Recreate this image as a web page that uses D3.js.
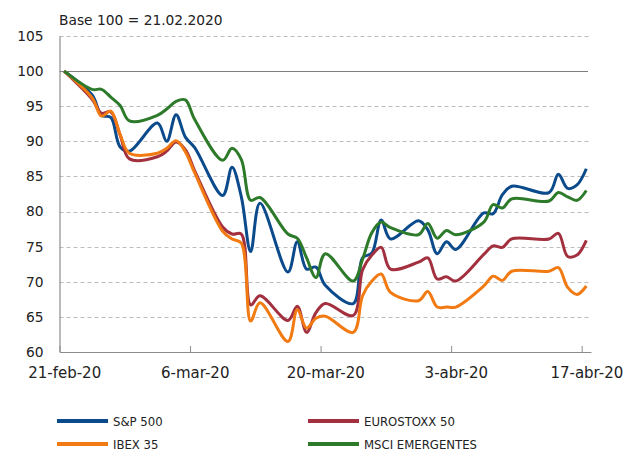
<!DOCTYPE html>
<html>
<head>
<meta charset="utf-8">
<script src="https://cdn.jsdelivr.net/npm/d3@7"></script>
<style>
  body { margin: 0; background: #fff; }
  svg { display: block; }
</style>
</head>
<body>
<svg id="chart" width="628" height="451"></svg>
<script>
// trading days, base 100 = 21.02.2020
var dates = ["2020-02-21","2020-02-24","2020-02-25","2020-02-26","2020-02-27","2020-02-28",
  "2020-03-02","2020-03-03","2020-03-04","2020-03-05","2020-03-06",
  "2020-03-09","2020-03-10","2020-03-11","2020-03-12","2020-03-13",
  "2020-03-16","2020-03-17","2020-03-18","2020-03-19","2020-03-20",
  "2020-03-23","2020-03-24","2020-03-25","2020-03-26","2020-03-27",
  "2020-03-30","2020-03-31","2020-04-01","2020-04-02","2020-04-03",
  "2020-04-06","2020-04-07","2020-04-08","2020-04-09",
  "2020-04-13","2020-04-14","2020-04-15","2020-04-16","2020-04-17"];

var sp500 = [100, 96.6, 93.7, 93.4, 89.2, 88.6,
  92.6, 90.0, 93.8, 90.6, 89.1,
  82.3, 86.3, 82.1, 74.3, 81.2,
  71.4, 75.7, 71.8, 72.1, 69.5,
  66.9, 73.4, 74.1, 78.8, 76.1,
  78.7, 77.4, 74.0, 75.7, 74.6,
  79.8, 79.7, 82.4, 83.6,
  82.7, 85.3, 83.3, 83.8, 86.1];

var eurostoxx = [100, 96.0, 94.0, 94.2, 90.9, 87.5,
  87.8, 88.6, 89.9, 88.8, 85.8,
  77.8, 76.8, 76.8, 66.7, 68.0,
  64.5, 66.5, 62.8, 65.6, 66.9,
  65.2, 71.7, 73.8, 74.9, 71.8,
  72.8, 73.4, 70.4, 70.7, 70.1,
  73.9, 75.1, 74.9, 76.1,
  76.1, 76.9, 73.6, 73.8, 75.9];

var ibex = [100, 96.2, 93.6, 94.3, 91.0, 88.3,
  88.3, 89.0, 90.1, 88.5, 85.5,
  77.2, 76.1, 75.5, 64.4, 67.0,
  61.5, 66.0, 63.4, 64.8, 65.1,
  62.8, 68.0, 70.1, 71.1, 68.5,
  67.3, 68.6, 66.4, 66.4, 66.4,
  69.4, 70.8, 70.2, 71.5,
  71.5, 72.0, 69.2, 68.2, 69.4];

var msciEm = [100, 97.4, 97.4, 96.3, 95.1, 92.9,
  93.7, 94.6, 95.7, 95.9, 93.1,
  87.3, 89.0, 87.4, 81.6, 82.0,
  76.8, 76.2, 73.4, 70.6, 74.0,
  70.1, 73.2, 77.0, 78.5, 77.7,
  76.7, 78.3, 76.2, 77.3, 76.7,
  78.5, 81.0, 80.5, 81.8,
  81.5, 82.7, 82.1, 81.6, 83.0];

var seriesNames = ["S&P 500", "EUROSTOXX 50", "IBEX 35", "MSCI EMERGENTES"];
var seriesValues = [sp500, eurostoxx, ibex, msciEm];
var colors = ["#0b4a8b", "#a3303e", "#f27a12", "#2e7a2b"];

var yTicks = [60, 65, 70, 75, 80, 85, 90, 95, 100, 105];
var tickDates = ["2020-02-21", "2020-03-06", "2020-03-20", "2020-04-03", "2020-04-17"];
var tickLabels = ["21-feb-20", "6-mar-20", "20-mar-20", "3-abr-20", "17-abr-20"];

var svg = d3.select("#chart");
var parse = d3.utcParse("%Y-%m-%d");

var plotLeft = 59.5, plotRight = 591, plotTop = 36, plotBottom = 352;

// date axis in calendar days, points sit in the middle of the day
var x = d3.scaleUtc()
  .domain([parse("2020-02-21"), parse("2020-04-18")])
  .range([plotLeft, plotRight]);
var halfDay = (x(parse("2020-02-22")) - x(parse("2020-02-21"))) / 2;

var y = d3.scaleLinear().domain([60, 105]).range([plotBottom, plotTop]);

// title
svg.append("text")
  .attr("x", 59)
  .attr("y", 25)
  .attr("font-family", "'DejaVu Sans', sans-serif")
  .attr("font-size", 13.8)
  .attr("fill", "#222")
  .text("Base 100 = 21.02.2020");

// gridlines
svg.append("g").selectAll("line")
  .data(yTicks.filter(function(v) { return v != 60; }))
  .join("line")
  .attr("x1", plotLeft)
  .attr("x2", function(v) { return v == 100 ? 588 : plotRight; })
  .attr("y1", function(v) { return Math.round(y(v)) + 0.5; })
  .attr("y2", function(v) { return Math.round(y(v)) + 0.5; })
  .attr("stroke", function(v) { return v == 100 ? "#7f7f7f" : "#bdbdbd"; })
  .attr("stroke-width", function(v) { return v == 100 ? 1.2 : 1; })
  .attr("stroke-dasharray", function(v) { return v == 100 ? null : "4,3"; });

// y axis
var yAxis = svg.append("g")
  .attr("transform", "translate(" + plotLeft + ",0)")
  .call(d3.axisLeft(y).tickValues(yTicks).tickSize(0).tickPadding(16));
yAxis.select(".domain").attr("stroke", "#8c8c8c").attr("stroke-width", 1.2);
yAxis.selectAll("text")
  .attr("font-family", "'DejaVu Sans', sans-serif")
  .attr("font-size", 13.8)
  .attr("fill", "#222");

// x axis
var xAxis = svg.append("g")
  .attr("transform", "translate(0," + plotBottom + ")")
  .call(d3.axisBottom(x)
    .tickValues(tickDates.map(parse))
    .tickSizeInner(-6)
    .tickSizeOuter(0)
    .tickPadding(15)
    .tickFormat(function(d, i) { return tickLabels[i]; }));
xAxis.select(".domain").attr("stroke", "#8c8c8c").attr("stroke-width", 1.2);
xAxis.selectAll(".tick line").attr("stroke", "#8c8c8c");
xAxis.selectAll("text")
  .attr("x", halfDay)
  .attr("font-family", "'DejaVu Sans', sans-serif")
  .attr("font-size", 15)
  .attr("fill", "#222");

// lines
var line = d3.line()
  .x(function(d) { return x(d.date) + halfDay; })
  .y(function(d) { return y(d.value); })
  .curve(d3.curveCatmullRom.alpha(0.5));

seriesValues.forEach(function(values, s) {
  var pts = values.map(function(v, i) { return {date: parse(dates[i]), value: v}; });
  svg.append("path")
    .datum(pts)
    .attr("fill", "none")
    .attr("stroke", colors[s])
    .attr("stroke-width", 3)
    .attr("stroke-linejoin", "round")
    .attr("d", line);
});

// legend, 2 columns: S&P / IBEX left, EUROSTOXX / MSCI right
var legendPos = [[57, 421], [308, 421], [57, 444], [308, 444]];
var legend = svg.append("g").selectAll("g")
  .data(seriesNames)
  .join("g")
  .attr("transform", function(d, i) { return "translate(" + legendPos[i][0] + "," + legendPos[i][1] + ")"; });
legend.append("line")
  .attr("x1", 0).attr("x2", 51)
  .attr("stroke", function(d, i) { return colors[i]; })
  .attr("stroke-width", 4);
legend.append("text")
  .attr("x", 56)
  .attr("dy", "0.36em")
  .attr("font-family", "'DejaVu Sans Condensed', 'Liberation Sans Narrow', sans-serif")
  .attr("font-stretch", "condensed")
  .attr("font-size", 13)
  .attr("fill", "#222")
  .text(function(d) { return d; });
</script>
</body>
</html>
